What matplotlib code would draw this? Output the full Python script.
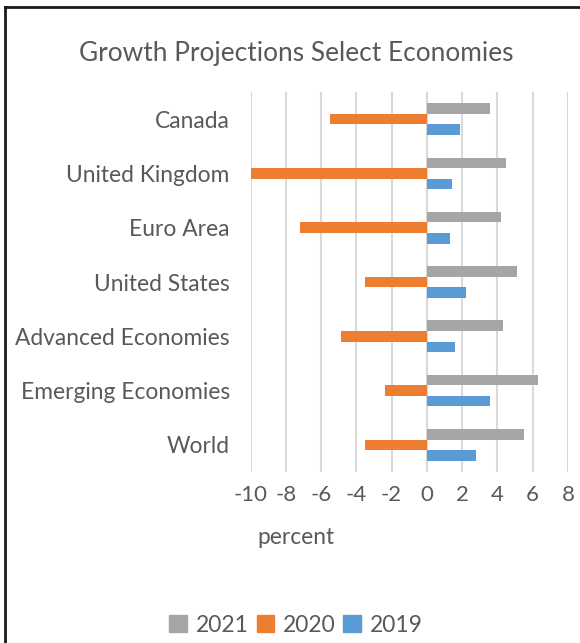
import matplotlib
matplotlib.use("Agg")
import matplotlib.pyplot as plt
from matplotlib.patches import Patch
from matplotlib.lines import Line2D
import numpy as np

# data (percent)
economies = ["World", "Emerging Economies", "Advanced Economies", "United States",
             "Euro Area", "United Kingdom", "Canada"]
growth_2021 = [5.5, 6.3, 4.3, 5.1, 4.2, 4.5, 3.6]
growth_2020 = [-3.5, -2.4, -4.9, -3.5, -7.2, -10.0, -5.5]
growth_2019 = [2.8, 3.6, 1.6, 2.2, 1.3, 1.4, 1.9]
series_names = ["2021", "2020", "2019"]
xticks = [-10, -8, -6, -4, -2, 0, 2, 4, 6, 8]

text_color = "#595959"
colors = {"2021": "#a5a5a5", "2020": "#ed7d31", "2019": "#5b9bd5"}
plt.rcParams["font.family"] = ["Lato", "DejaVu Sans"]

fig = plt.figure(figsize=(5.8, 6.43), dpi=100)
ax = fig.add_axes([0.4322, 0.2659, 0.547, 0.591])

y = np.arange(len(economies))
bar_h = 0.195
for offset, name, vals in zip([bar_h, 0, -bar_h], series_names,
                              [growth_2021, growth_2020, growth_2019]):
    ax.barh(y + offset, vals, height=bar_h, color=colors[name], zorder=3)

ax.set_xlim(-10, 8)
ax.set_ylim(-0.5, len(economies) - 0.5)
ax.set_xticks(xticks)
ax.set_xticklabels([str(t) for t in xticks])
ax.set_yticks(y)
ax.set_yticklabels(economies)
ax.grid(axis="x", color="#d9d9d9", linewidth=1.5, zorder=0)
for s in ax.spines.values():
    s.set_visible(False)
ax.tick_params(axis="x", length=0, labelsize=16, colors=text_color, pad=9)
ax.tick_params(axis="y", length=0, labelsize=16.4, colors=text_color, pad=15)

fig.text(296 / 580, 1 - 53 / 643, "Growth Projections Select Economies",
         ha="center", va="center", fontsize=18.9, color=text_color)
fig.text(296 / 580, 1 - 538 / 643, "percent", ha="center", va="center",
         fontsize=16.4, color=text_color)

handles = [Patch(color=colors[n]) for n in series_names]
fig.legend(handles, series_names, loc="center", bbox_to_anchor=(296 / 580, 1 - 625 / 643),
           ncol=3, frameon=False, fontsize=16.4, labelcolor=text_color,
           handlelength=0.75, handleheight=0.75, handletextpad=0.4, columnspacing=0.35)

# frame lines on the left and top edge
fig.add_artist(Line2D([5 / 580, 5 / 580], [0, 1 - 7 / 643], color="#1a1a1a",
                      linewidth=2, transform=fig.transFigure))
fig.add_artist(Line2D([5 / 580, 1], [1 - 7 / 643, 1 - 7 / 643], color="#1a1a1a",
                      linewidth=2, transform=fig.transFigure))

fig.savefig("out.png", dpi=100)
